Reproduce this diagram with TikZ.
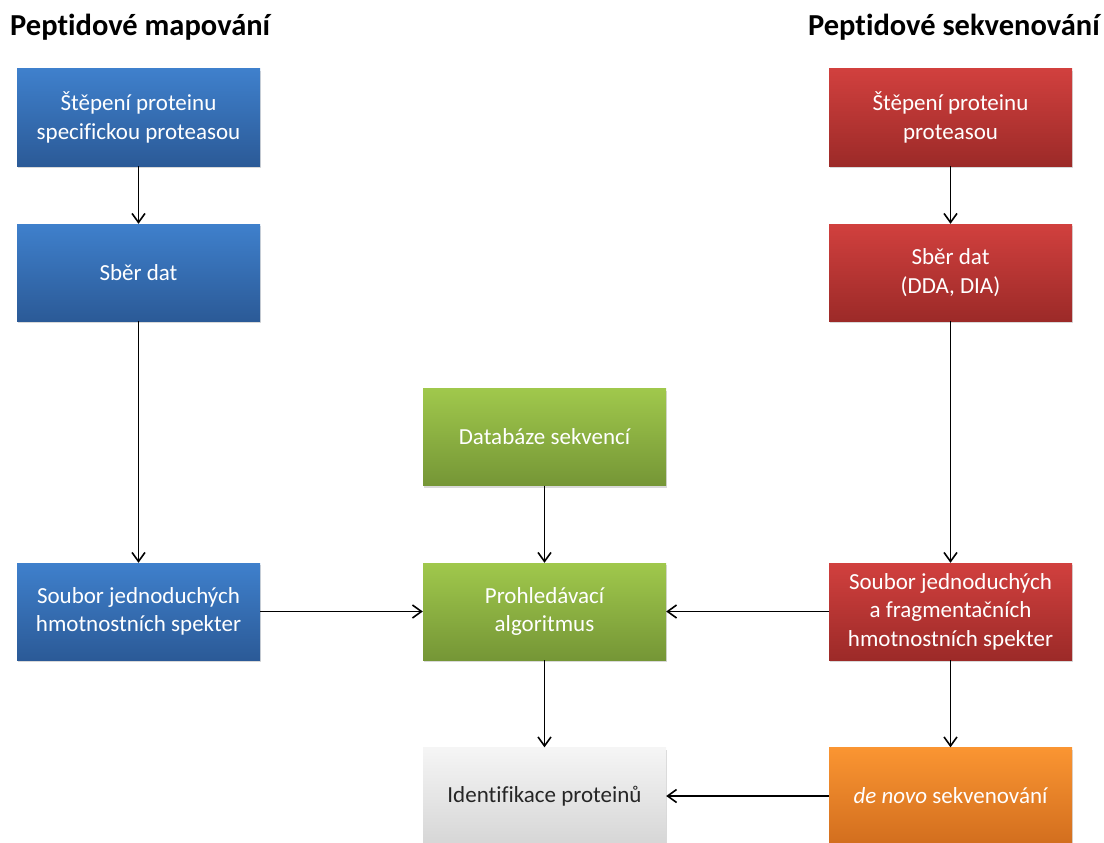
\documentclass[tikz,border=0pt]{standalone}
\usepackage{fontspec}
\setmainfont[Ligatures=NoCommon]{Carlito}
\usetikzlibrary{shadows,arrows.meta}
\definecolor{bluetop}{HTML}{3F80CC}
\definecolor{bluebot}{HTML}{2B5A97}
\definecolor{redtop}{HTML}{D1403E}
\definecolor{redbot}{HTML}{9C2A28}
\definecolor{greentop}{HTML}{A0C84C}
\definecolor{greenbot}{HTML}{759636}
\definecolor{orangetop}{HTML}{FA9532}
\definecolor{orangebot}{HTML}{D26E1E}
\definecolor{greytop}{HTML}{F5F5F5}
\definecolor{greybot}{HTML}{D6D6D6}
\begin{document}
\begin{tikzpicture}[x=1pt,y=-1pt,
  box/.style={rectangle, minimum width=243pt, minimum height=97pt, inner sep=0pt,
    align=center, font=\fontsize{23}{28.5}\selectfont, text=white,
    drop shadow={shadow xshift=1pt,shadow yshift=-2pt,opacity=0.3}},
  bluebox/.style={box, top color=bluetop, bottom color=bluebot},
  redbox/.style={box, top color=redtop, bottom color=redbot},
  greenbox/.style={box, top color=greentop, bottom color=greenbot},
  orangebox/.style={box, top color=orangetop, bottom color=orangebot},
  greybox/.style={box, top color=greytop, bottom color=greybot, text=black!85},
  arr/.style={draw=black, line width=1.6pt, -{Straight Barb[length=9pt,width=13pt]}},
  title/.style={font=\fontsize{30.5}{36}\selectfont\bfseries, text=black, inner sep=0pt}
]
\useasboundingbox (0,0) rectangle (1104,843);
\node[title, anchor=base west] (t1) at (10,36) {Peptidové mapování};
\node[title, anchor=base east] (t2) at (1100,36) {Peptidové sekvenování};

\node[bluebox] (b1) at (138.5,117.5) {Štěpení proteinu\\specifickou proteasou};
\node[bluebox] (b2) at (138.5,272.5) {Sběr dat};
\node[bluebox] (b3) at (138.5,611.5) {Soubor jednoduchých\\hmotnostních spekter};

\node[redbox] (r1) at (950.5,117.5) {Štěpení proteinu\\proteasou};
\node[redbox] (r2) at (950.5,272.5) {Sběr dat\\(DDA, DIA)};
\node[redbox] (r3) at (950.5,611.5) {Soubor jednoduchých\\a fragmentačních\\hmotnostních spekter};
\node[orangebox] (o1) at (950.5,796) {\textit{de novo} sekvenování};

\node[greenbox] (g1) at (544.5,437) {Databáze sekvencí};
\node[greenbox] (g2) at (544.5,611.5) {Prohledávací\\algoritmus};
\node[greybox] (id) at (544.5,796) {Identifikace proteinů};

\draw[arr] (b1) -- (b2);
\draw[arr] (b2) -- (b3);
\draw[arr] (b3) -- (g2);
\draw[arr] (r1) -- (r2);
\draw[arr] (r2) -- (r3);
\draw[arr] (r3) -- (g2);
\draw[arr] (r3) -- (o1);
\draw[arr] (g1) -- (g2);
\draw[arr] (g2) -- (id);
\draw[arr] (o1) -- (id);
\end{tikzpicture}
\end{document}
